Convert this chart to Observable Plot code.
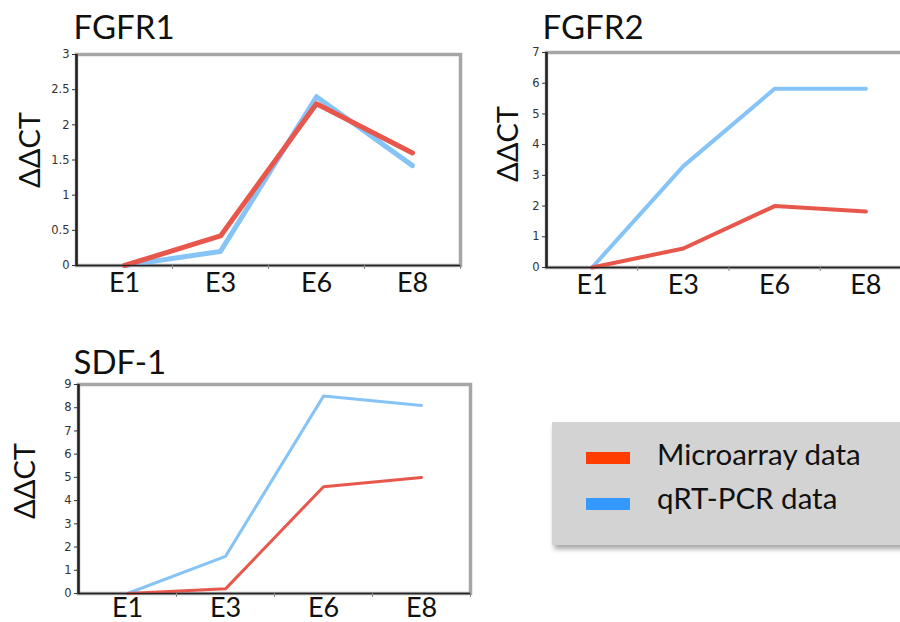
<!DOCTYPE html>
<html>
<head>
<meta charset="utf-8">
<script src="https://cdn.jsdelivr.net/npm/d3@7"></script>
<script src="https://cdn.jsdelivr.net/npm/@observablehq/plot@0.6"></script>
<style>
  body { margin: 0; background: #fff; }
  #wrap { position: relative; width: 900px; height: 622px; overflow: hidden; background: #fff; }
  .panel { position: absolute; }
  #legend { position: absolute; left: 552px; top: 422px; width: 360px; height: 123px; background: #d3d3d3;
            box-shadow: 2px 4px 5px rgba(0,0,0,0.35); font-family: Lato, sans-serif; }
  .sw { position: absolute; left: 34px; width: 44px; height: 12px; }
  .lt { position: absolute; left: 105px; font-size: 29.5px; color: #111; line-height: 1; }
</style>
</head>
<body>
<div id="wrap">
  <div id="legend">
    <div class="sw" style="top:30px;background:#ff3d00"></div>
    <div class="lt" style="top:17px">Microarray data</div>
    <div class="sw" style="top:76px;background:#3399ff"></div>
    <div class="lt" style="top:61px">qRT-PCR data</div>
  </div>
</div>
<script>
const stages = ["E1", "E3", "E6", "E8"];
const seriesNames = ["Microarray data", "qRT-PCR data"];
const fgfr1Micro = [0, 0.42, 2.3, 1.6];
const fgfr1Qpcr  = [0, 0.2, 2.4, 1.42];
const fgfr2Micro = [0, 0.62, 2.0, 1.82];
const fgfr2Qpcr  = [0, 3.3, 5.82, 5.82];
const sdf1Micro  = [0, 0.2, 4.6, 5.0];
const sdf1Qpcr   = [0, 1.6, 8.5, 8.1];
const fgfr1Ticks = [0, 0.5, 1, 1.5, 2, 2.5, 3];
const fgfr2Ticks = [0, 1, 2, 3, 4, 5, 6, 7];
const sdf1Ticks  = [0, 1, 2, 3, 4, 5, 6, 7, 8, 9];

const lineRed = "#e8574c";
const lineBlue = "#86c3f6";

function rows(micro, qpcr) {
  const out = [];
  stages.forEach((s, i) => out.push({stage: s, idx: i, value: qpcr[i], series: seriesNames[1]}));
  stages.forEach((s, i) => out.push({stage: s, idx: i, value: micro[i], series: seriesNames[0]}));
  return out;
}

function panel(cfg) {
  const data = rows(cfg.micro, cfg.qpcr);
  const ymax = cfg.ticks[cfg.ticks.length - 1];
  const chart = Plot.plot({
    width: cfg.width, height: cfg.height,
    marginLeft: cfg.ml, marginRight: cfg.mr, marginTop: cfg.mt, marginBottom: cfg.mb,
    style: {background: "transparent", overflow: "visible"},
    x: {domain: [-0.5, 3.5], axis: null},
    y: {domain: [0, ymax], axis: null},
    marks: [
      Plot.frame({stroke: "#a6a6a6", strokeWidth: 3.5}),
      Plot.line(data.filter(d => d.series === seriesNames[1]), {x: "idx", y: "value", stroke: lineBlue, strokeWidth: cfg.sw}),
      Plot.line(data.filter(d => d.series === seriesNames[0]), {x: "idx", y: "value", stroke: lineRed, strokeWidth: cfg.sw}),
      Plot.ruleY([0], {stroke: "#222", strokeWidth: 1.5}),
      Plot.ruleX([-0.5], {stroke: "#222", strokeWidth: 2.5}),
      Plot.axisY({ticks: cfg.ticks, tickSize: 4, tickPadding: 3, fontSize: 11.5, fontFamily: "DejaVu Sans",
                  color: "#333", label: null, tickFormat: d => String(d)}),
      Plot.axisX({ticks: [0.5, 1.5, 2.5, 3.5], tickSize: 4, tickFormat: () => "", color: "#888", label: null}),
      Plot.axisX({ticks: [0, 1, 2, 3], tickSize: 0, tickPadding: cfg.xpad, fontSize: 27, fontFamily: "Lato",
                  color: "#111", label: null, tickFormat: i => stages[i]}),
      Plot.text([cfg.title], {frameAnchor: "top-left", textAnchor: "start", lineAnchor: "bottom",
                  dx: cfg.tdx, dy: cfg.tdy, fontSize: 33, fontFamily: "Lato", fill: "#111"}),
      Plot.text(["ΔΔCT"], {frameAnchor: "left", textAnchor: "middle", lineAnchor: "middle", rotate: -90,
                  dx: cfg.ldx, dy: cfg.ldy, fontSize: 29, fontFamily: "Lato", fill: "#111"})
    ]
  });
  chart.classList.add("panel");
  chart.style.left = cfg.left + "px";
  chart.style.top = cfg.top + "px";
  document.getElementById("wrap").appendChild(chart);
}

panel({title: "FGFR1", micro: fgfr1Micro, qpcr: fgfr1Qpcr, ticks: fgfr1Ticks,
       left: 0, top: 0, width: 470, height: 310, ml: 76, mr: 10, mt: 54, mb: 45, sw: 5, xpad: 7,
       tdx: -3, tdy: -16, ldx: -46, ldy: -10});
panel({title: "FGFR2", micro: fgfr2Micro, qpcr: fgfr2Qpcr, ticks: fgfr2Ticks,
       left: 470, top: 0, width: 445, height: 310, ml: 76, mr: 4, mt: 52, mb: 43, sw: 4, xpad: 7,
       tdx: -4, tdy: -14, ldx: -38, ldy: -16});
panel({title: "SDF-1", micro: sdf1Micro, qpcr: sdf1Qpcr, ticks: sdf1Ticks,
       left: 0, top: 320, width: 480, height: 302, ml: 78, mr: 10, mt: 64, mb: 29, sw: 3, xpad: 4,
       tdx: -5, tdy: -11, ldx: -53, ldy: -8});
</script>
</body>
</html>
